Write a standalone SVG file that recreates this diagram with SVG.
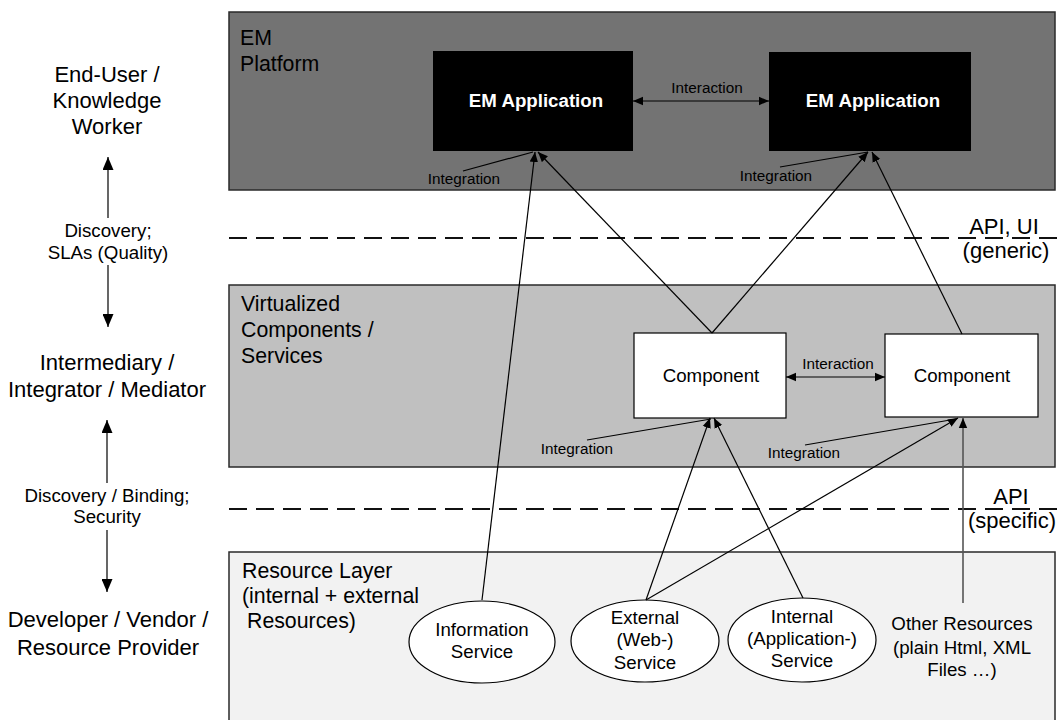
<svg xmlns="http://www.w3.org/2000/svg" width="1057" height="720" viewBox="0 0 1057 720">
<style>
text{font-family:"Liberation Sans",Arial,sans-serif;fill:#000}
.role{font-size:22px;text-anchor:middle}
.rel{font-size:18.7px;text-anchor:middle}
.layer{font-size:21.3px}
.lbl{font-size:15.3px;text-anchor:middle}
.node{font-size:18.7px;text-anchor:middle}
.app{font-size:18.7px;font-weight:bold;fill:#fff;text-anchor:middle}
.api{font-size:22px;text-anchor:middle}
.ln{stroke:#000;stroke-width:1.2;fill:none}
.dash{stroke:#111;stroke-width:2;stroke-dasharray:18 9;fill:none}
</style>
<defs>
<marker id="ah" viewBox="0 0 10 10" refX="10" refY="5" markerWidth="10" markerHeight="10" markerUnits="userSpaceOnUse" orient="auto-start-reverse">
<path d="M0,0.8 L10,5 L0,9.2 Z" fill="#000"/>
</marker>
<marker id="ahL" viewBox="0 0 13 11" refX="13" refY="5.5" markerWidth="13" markerHeight="11" markerUnits="userSpaceOnUse" orient="auto-start-reverse">
<path d="M0,0 L13,5.5 L0,11 Z" fill="#000"/>
</marker>
</defs>
<rect width="1057" height="720" fill="#fff"/>

<g id="layer-platform">
<rect x="229" y="12" width="826" height="178" fill="#737373" stroke="#2a2a2a" stroke-width="1.5"/>
<text class="layer" x="240" y="45">EM</text>
<text class="layer" x="240" y="71">Platform</text>
</g>
<g id="layer-virtual">
<rect x="229" y="285" width="826" height="182" fill="#c0c0c0" stroke="#2a2a2a" stroke-width="1.5"/>
<text class="layer" x="241" y="311">Virtualized</text>
<text class="layer" x="241" y="337">Components /</text>
<text class="layer" x="241" y="363">Services</text>
</g>
<g id="layer-resource">
<rect x="229" y="552" width="826" height="175" fill="#f2f2f2" stroke="#2a2a2a" stroke-width="1.5"/>
<text class="layer" x="242" y="578">Resource Layer</text>
<text class="layer" x="242" y="603">(internal + external</text>
<text class="layer" x="247" y="628">Resources)</text>
</g>

<g id="api-lines">
<line class="dash" x1="229" y1="238" x2="1057" y2="238"/>
<text class="api" x="1004" y="234">API, UI</text>
<text class="api" x="1006" y="258">(generic)</text>
<line class="dash" x1="229" y1="509" x2="1057" y2="509"/>
<text class="api" x="1011" y="504">API</text>
<text class="api" x="1012" y="528">(specific)</text>
</g>

<g id="roles">
<text class="role" x="107" y="82">End-User /</text>
<text class="role" x="107" y="108">Knowledge</text>
<text class="role" x="107" y="134">Worker</text>
<text class="rel" x="108" y="237">Discovery;</text>
<text class="rel" x="108" y="259">SLAs (Quality)</text>
<text class="role" x="107" y="370">Intermediary /</text>
<text class="role" x="107" y="397">Integrator / Mediator</text>
<text class="rel" x="107" y="502">Discovery / Binding;</text>
<text class="rel" x="107" y="523">Security</text>
<text class="role" x="108" y="627">Developer / Vendor /</text>
<text class="role" x="108" y="655">Resource Provider</text>
</g>

<g id="app1">
<rect x="433" y="51" width="200" height="100" fill="#000"/>
<text class="app" x="536" y="107">EM Application</text>
</g>
<g id="app2">
<rect x="769" y="52" width="202" height="99" fill="#000"/>
<text class="app" x="873" y="107">EM Application</text>
</g>
<g id="comp1">
<rect x="634" y="333" width="152" height="85" fill="#fff" stroke="#000" stroke-width="1.2"/>
<text class="node" x="711" y="382">Component</text>
</g>
<g id="comp2">
<rect x="885" y="334" width="153" height="83" fill="#fff" stroke="#000" stroke-width="1.2"/>
<text class="node" x="962" y="382">Component</text>
</g>
<g id="info">
<ellipse cx="482" cy="642" rx="73" ry="41" fill="#fff" stroke="#000" stroke-width="1.2"/>
<text class="node" x="482" y="636">Information</text>
<text class="node" x="482" y="658">Service</text>
</g>
<g id="external">
<ellipse cx="645" cy="641" rx="74" ry="41" fill="#fff" stroke="#000" stroke-width="1.2"/>
<text class="node" x="645" y="624">External</text>
<text class="node" x="645" y="646">(Web-)</text>
<text class="node" x="645" y="669">Service</text>
</g>
<g id="internal">
<ellipse cx="802" cy="640" rx="74" ry="42" fill="#fff" stroke="#000" stroke-width="1.2"/>
<text class="node" x="802" y="623">Internal</text>
<text class="node" x="802" y="645">(Application-)</text>
<text class="node" x="802" y="667">Service</text>
</g>
<g id="other">
<text class="node" x="962" y="630">Other Resources</text>
<text class="node" x="962" y="654">(plain Html, XML</text>
<text class="node" x="962" y="676">Files …)</text>
</g>

<g id="connectors">
<line class="ln" x1="108" y1="218" x2="108" y2="157" marker-end="url(#ahL)"/>
<line class="ln" x1="108" y1="265" x2="108" y2="327" marker-end="url(#ahL)"/>
<line class="ln" x1="107" y1="483" x2="107" y2="420" marker-end="url(#ahL)"/>
<line class="ln" x1="107" y1="530" x2="107" y2="592" marker-end="url(#ahL)"/>

<line class="ln" x1="633" y1="101" x2="769" y2="101" marker-start="url(#ah)" marker-end="url(#ah)"/>
<line class="ln" x1="786" y1="377" x2="885" y2="377" marker-start="url(#ah)" marker-end="url(#ah)"/>

<line class="ln" x1="482" y1="600" x2="535" y2="152" marker-end="url(#ah)"/>
<line class="ln" x1="712" y1="333" x2="538" y2="152" marker-end="url(#ah)"/>
<line class="ln" x1="712" y1="333" x2="868" y2="152" marker-end="url(#ah)"/>
<line class="ln" x1="962" y1="334" x2="872" y2="152" marker-end="url(#ah)"/>
<line class="ln" x1="646" y1="600" x2="710" y2="418" marker-end="url(#ah)"/>
<line class="ln" x1="803" y1="598" x2="714" y2="418" marker-end="url(#ah)"/>
<line class="ln" x1="646" y1="600" x2="958" y2="418" marker-end="url(#ah)"/>
<line x1="963" y1="603" x2="963" y2="418" stroke="#555" stroke-width="1.6" marker-end="url(#ah)"/>

<line class="ln" x1="463" y1="171" x2="533" y2="152"/>
<line class="ln" x1="780" y1="167" x2="868" y2="152"/>
<line class="ln" x1="587" y1="440" x2="711" y2="419"/>
<line class="ln" x1="805" y1="445" x2="956" y2="419"/>

<text class="lbl" x="707" y="93">Interaction</text>
<text class="lbl" x="838" y="369">Interaction</text>
<text class="lbl" x="464" y="184">Integration</text>
<text class="lbl" x="776" y="181">Integration</text>
<text class="lbl" x="577" y="454">Integration</text>
<text class="lbl" x="804" y="458">Integration</text>
</g>
</svg>
